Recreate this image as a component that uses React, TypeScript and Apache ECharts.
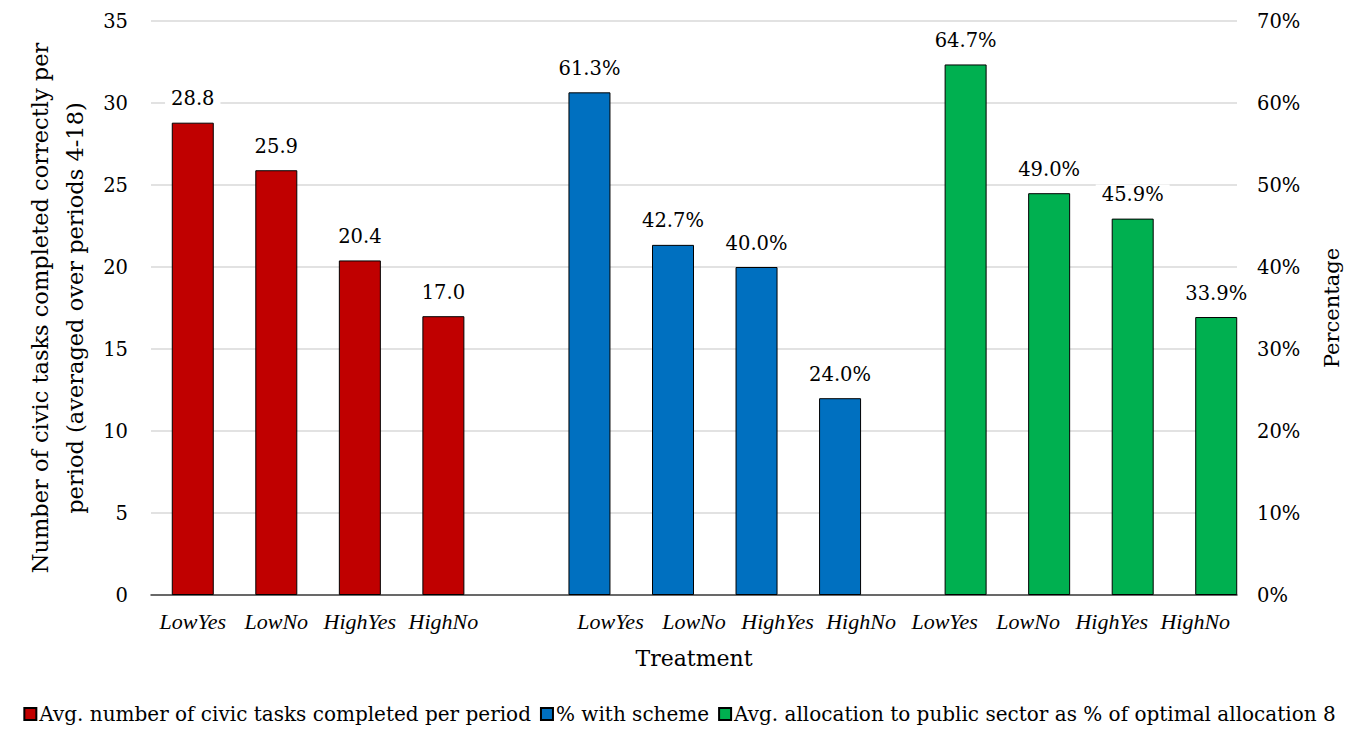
import React, { useEffect, useRef } from "react";
import * as echarts from "echarts";

const categories = ["LowYes", "LowNo", "HighYes", "HighNo", "", "LowYes", "LowNo", "HighYes", "HighNo", "LowYes", "LowNo", "HighYes", "HighNo"];
const tasksValues = [28.8, 25.9, 20.4, 17.0];
const schemeValues = [61.3, 42.7, 40.0, 24.0];
const allocationValues = [64.7, 49.0, 45.9, 33.9];
const seriesNames = [
  "Avg. number of civic tasks completed per period",
  "% with scheme",
  "Avg. allocation to public sector as % of optimal allocation 8",
];
const leftTicks = { min: 0, max: 35, interval: 5 };
const rightTicks = { min: 0, max: 70, interval: 10 };

const FONT = "DejaVu Serif";
const ITALIC_FONT = "Liberation Serif";
const FS = 19.5;

function pad(values: number[], start: number): (number | string)[] {
  const out: (number | string)[] = categories.map(() => "-");
  values.forEach((v, i) => (out[start + i] = v));
  return out;
}

export default function App() {
  const ref = useRef<HTMLDivElement>(null);
  useEffect(() => {
    if (!ref.current) return;
    const chart = echarts.init(ref.current, undefined, { renderer: "svg" });
    const labelBase = {
      show: true,
      position: "top" as const,
      distance: 14,
      color: "#000",
      fontFamily: FONT,
      fontSize: FS,
      backgroundColor: "#fff",
      padding: [0, 6, 0, 6],
    };
    chart.setOption({
      animation: false,
      textStyle: { fontFamily: FONT, color: "#000" },
      grid: { left: 151, right: 122, top: 21, bottom: 135, containLabel: false },
      legend: {
        bottom: 1,
        left: "center",
        itemWidth: 12,
        itemHeight: 12,
        itemGap: 9,
        icon: "rect",
        textStyle: { fontFamily: FONT, fontSize: 20, color: "#000", padding: [0, 0, 0, -2] },
        data: seriesNames,
      },
      xAxis: [
        {
          type: "category",
          data: categories,
          name: "Treatment",
          nameLocation: "middle",
          nameGap: 52,
          nameTextStyle: { fontFamily: FONT, fontSize: 22, color: "#000" },
          axisLine: { lineStyle: { color: "#404040", width: 1.5 } },
          axisTick: { show: false },
          axisLabel: { fontFamily: ITALIC_FONT, fontStyle: "italic", fontSize: 22, color: "#000", margin: 15, interval: 0 },
        },
        {
          type: "category",
          data: categories,
          show: false,
        },
      ],
      yAxis: [
        {
          type: "value",
          ...leftTicks,
          name: "Number of civic tasks completed correctly per\nperiod (averaged over periods 4-18)",
          nameLocation: "middle",
          nameRotate: 90,
          nameGap: 46,
          nameTextStyle: { fontFamily: FONT, fontSize: 22.5, color: "#000", lineHeight: 35 },
          axisLine: { show: false },
          axisTick: { show: false },
          axisLabel: { fontFamily: FONT, fontSize: FS, color: "#000", margin: 23 },
          splitLine: { lineStyle: { color: "#d9d9d9", width: 1.5 } },
        },
        {
          type: "value",
          ...rightTicks,
          position: "right",
          name: "Percentage",
          nameLocation: "middle",
          nameRotate: 90,
          nameGap: 84,
          nameTextStyle: { fontFamily: FONT, fontSize: 21, color: "#000" },
          axisLine: { show: false },
          axisTick: { show: false },
          axisLabel: { fontFamily: FONT, fontSize: FS, color: "#000", margin: 20, formatter: "{value}%" },
          splitLine: { show: false },
        },
      ],
      series: [
        {
          name: seriesNames[0],
          type: "bar",
          xAxisIndex: 0,
          yAxisIndex: 0,
          barWidth: 42,
          data: pad(tasksValues, 0),
          itemStyle: { color: "#C00000", borderColor: "#000", borderWidth: 1 },
          label: { ...labelBase, formatter: (p: any) => Number(p.value).toFixed(1) },
        },
        {
          name: seriesNames[1],
          type: "bar",
          xAxisIndex: 1,
          yAxisIndex: 1,
          barWidth: 42,
          barGap: "0%",
          data: pad(schemeValues, 5),
          itemStyle: { color: "#0070C0", borderColor: "#000", borderWidth: 1 },
          label: { ...labelBase, formatter: (p: any) => Number(p.value).toFixed(1) + "%" },
        },
        {
          name: seriesNames[2],
          type: "bar",
          xAxisIndex: 1,
          yAxisIndex: 1,
          barWidth: 42,
          barGap: "0%",
          data: pad(allocationValues, 9),
          itemStyle: { color: "#00B050", borderColor: "#000", borderWidth: 1 },
          label: { ...labelBase, formatter: (p: any) => Number(p.value).toFixed(1) + "%" },
        },
      ],
    });
    return () => chart.dispose();
  }, []);
  return <div ref={ref} style={{ width: 1359, height: 730, position: "absolute", left: 0, top: 0 }} />;
}
